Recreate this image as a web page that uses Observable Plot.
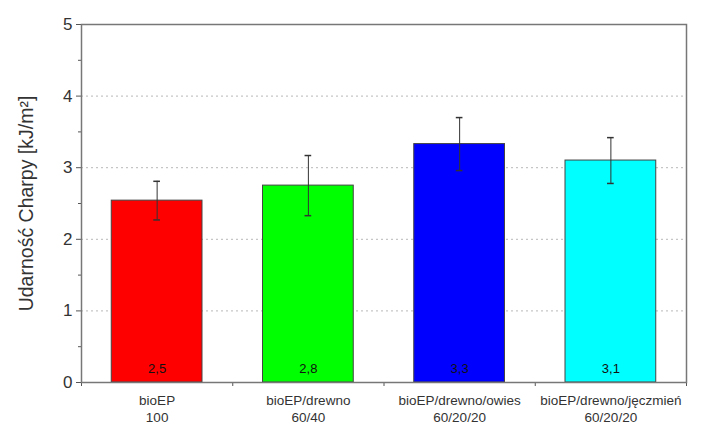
<!DOCTYPE html>
<html>
<head>
<meta charset="utf-8">
<script src="https://cdn.jsdelivr.net/npm/d3@7"></script>
<script src="https://cdn.jsdelivr.net/npm/@observablehq/plot@0.6"></script>
<style>
  html, body { margin: 0; padding: 0; background: #fff; }
  #chart svg { display: block; font-family: "Liberation Sans", Arial, sans-serif; }
</style>
</head>
<body>
<div id="chart"></div>
<script>
const names = ["bioEP", "bioEP/drewno", "bioEP/drewno/owies", "bioEP/drewno/jęczmień"];
const ratios = ["100", "60/40", "60/20/20", "60/20/20"];
const values = [2.54, 2.75, 3.33, 3.10];
const errors = [0.27, 0.42, 0.37, 0.32];
const valueLabels = ["2,5", "2,8", "3,3", "3,1"];
const colors = ["#ff0000", "#00ff00", "#0000ff", "#00ffff"];
const majorTicks = [0, 1, 2, 3, 4, 5];
const minorTicks = [0.5, 1.5, 2.5, 3.5, 4.5];
const gridTicks = [1, 2, 3, 4];
const yLabel = "Udarność Charpy [kJ/m²]";

const data = names.map((n, i) => ({
  pos: i + 1, name: n, ratio: ratios[i], value: values[i], err: errors[i],
  label: valueLabels[i], color: colors[i]
}));
const boundaries = d3.range(0, names.length + 1).map(i => i + 0.5);

const barHalf = 0.3, capHalf = 0.022;

const chart = Plot.plot({
  width: 707,
  height: 426,
  marginLeft: 81,
  marginRight: 21,
  marginTop: 24,
  marginBottom: 44,
  style: { fontFamily: "'Liberation Sans', Arial, sans-serif", color: "#333", background: "#fff" },
  x: { type: "linear", domain: [0.5, names.length + 0.5] },
  y: { domain: [0, 5] },
  color: { type: "identity" },
  marks: [
    Plot.gridY(gridTicks, { stroke: "#b8b8b8", strokeOpacity: 1, strokeDasharray: "2,3" }),
    Plot.rectY(data, { x1: d => d.pos - barHalf, x2: d => d.pos + barHalf, y: "value", fill: "color", stroke: "#444", strokeWidth: 1 }),
    Plot.ruleX(data, { x: "pos", y1: d => d.value - d.err, y2: d => d.value + d.err, stroke: "#333", strokeWidth: 1 }),
    Plot.ruleY(data, { y: d => d.value + d.err, x1: d => d.pos - capHalf, x2: d => d.pos + capHalf, stroke: "#333", strokeWidth: 1.5 }),
    Plot.ruleY(data, { y: d => d.value - d.err, x1: d => d.pos - capHalf, x2: d => d.pos + capHalf, stroke: "#333", strokeWidth: 1.5 }),
    Plot.text(data, { x: "pos", y: 0, dy: -14, text: "label", fontSize: 13, fill: "#111" }),
    Plot.axisY(majorTicks, { tickSize: 5, tickPadding: 4, fontSize: 17, tickFormat: d3.format("d"), label: null, stroke: "#555" }),
    Plot.axisY(minorTicks, { tickSize: 3, tickFormat: () => "", label: null, stroke: "#555" }),
    Plot.text([yLabel], { frameAnchor: "left", textAnchor: "middle", rotate: -90, dx: -55, fontSize: 19.5, fill: "#333" }),
    Plot.axisX([1, 2, 3, 4], { tickSize: 0, tickPadding: 11, fontSize: 13.5, lineHeight: 1.25, tickFormat: p => names[p - 1] + "\n" + ratios[p - 1], label: null }),
    Plot.axisX(boundaries, { tickSize: 4, tickFormat: () => "", label: null, stroke: "#555" }),
    Plot.frame({ stroke: "#777", strokeWidth: 1.5 })
  ]
});
document.getElementById("chart").appendChild(chart);
</script>
</body>
</html>
